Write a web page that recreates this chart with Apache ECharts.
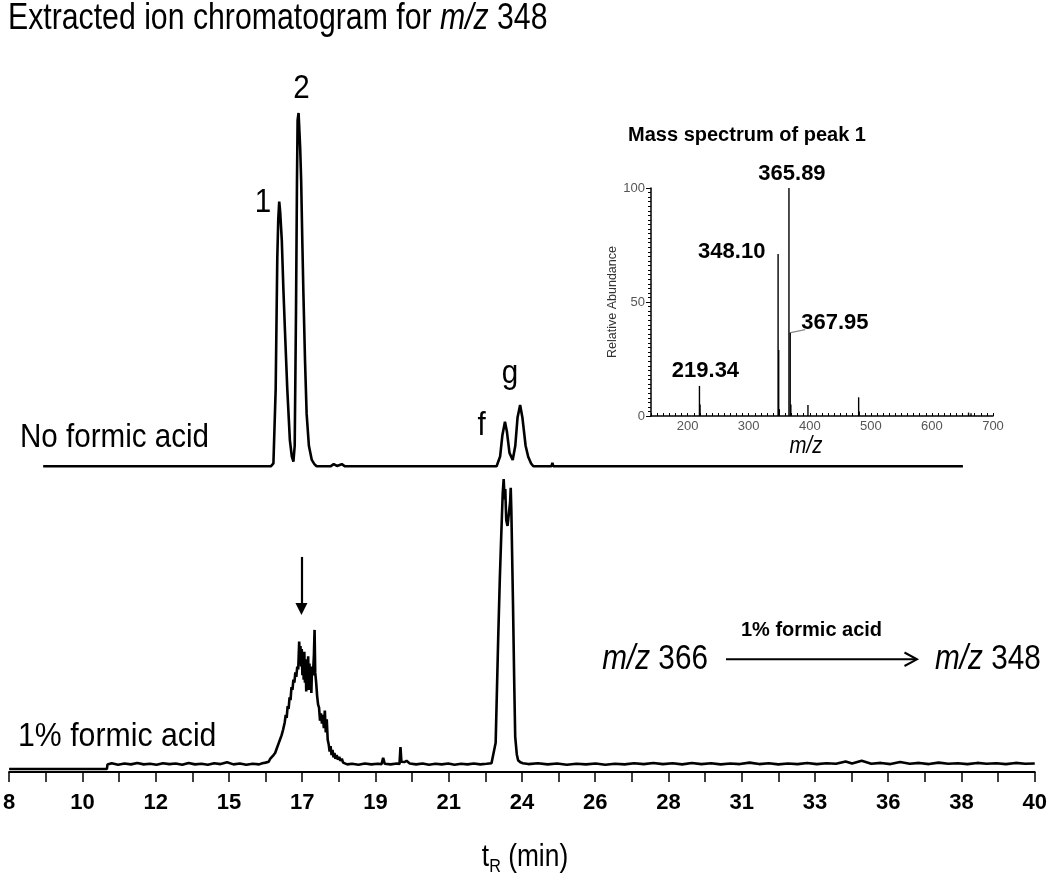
<!DOCTYPE html>
<html><head><meta charset="utf-8">
<script src="https://cdn.jsdelivr.net/npm/echarts@6/dist/echarts.min.js"></script>
<style>html,body{margin:0;padding:0;background:#fff}#c{width:1050px;height:878px}</style>
</head><body><div id="c"></div>
<script>
// ---------- data ----------
const timeTickLabels = ['8','10','12','15','17','19','21','24','26','28','31','33','36','38','40'];

// No formic acid trace: [time (min), relative intensity]
const noAcidTrace = [
  [9.09,0.2],[11.5,0.2],[14,0.2],[16.15,0.2],[16.23,1],[16.30,22],[16.35,59],[16.38,70],[16.41,75],[16.44,72],
  [16.49,64],[16.54,50],[16.59,38],[16.66,22],[16.74,7.6],[16.80,3],[16.85,1.5],[16.89,6],[16.93,43.5],[16.96,80],
  [16.98,98],[17.01,100],[17.03,99.5],[17.06,90],[17.09,81],[17.13,62],[17.16,49],[17.21,30],[17.26,15],[17.33,6],
  [17.42,2],[17.50,0.8],[17.57,0.2],[18.0,0.2],[18.1,0.8],[18.2,0.3],[18.35,0.8],[18.45,0.2],[21.0,0.2],[23.15,0.2],
  [23.26,3],[23.33,9],[23.41,12.8],[23.47,10],[23.55,4],[23.65,2],[23.73,6],[23.80,14],[23.88,17.5],[23.95,14],
  [24.05,6],[24.13,2.9],[24.22,1],[24.29,0.2],[24.85,0.2],[24.88,1.2],[24.91,0.2],[30.0,0.2],[37.61,0.2]
];

// 1% formic acid trace: [time (min), relative intensity]
const acidTrace = [
  [8.0,1.0],[11.05,1.0],[11.07,2.6],[11.2,3.0],[11.4,2.5],[11.6,2.9],[11.8,2.6],[12.0,3.1],[12.2,2.6],[12.4,2.8],
  [12.6,2.5],[12.8,3.0],[13.0,2.7],[13.2,2.9],[13.4,2.5],[13.6,3.1],[13.8,2.6],[14.0,2.8],[14.2,2.5],[14.4,3.0],
  [14.6,2.7],[14.8,3.3],[15.0,2.6],[15.2,2.9],[15.4,2.5],[15.6,2.8],[15.8,2.6],[15.9,3.0],
  [16.00,3.2],[16.05,3.8],[16.10,3.5],[16.15,4.6],[16.20,5.0],[16.25,5.8],[16.30,6.5],[16.35,8.0],[16.40,9.5],[16.45,11.0],
  [16.50,12.5],[16.55,14.5],[16.60,17.0],[16.63,19.5],[16.66,18.5],[16.69,22.5],[16.72,21.5],[16.75,25.5],[16.78,24.5],[16.81,29.0],
  [16.84,28.0],[16.87,31.5],[16.90,30.5],[16.93,34.0],[16.96,32.5],[16.99,36.0],[17.02,35.0],[17.05,44.5],[17.07,38.5],[17.09,43.0],
  [17.11,36.0],[17.13,42.0],[17.15,33.0],[17.17,40.5],[17.19,31.5],[17.21,41.0],[17.23,30.5],[17.25,38.5],[17.27,27.5],[17.29,36.5],
  [17.31,30.0],[17.33,39.5],[17.35,28.0],[17.37,37.0],[17.39,29.5],[17.41,35.0],[17.43,27.0],[17.45,36.0],[17.48,33.0],[17.51,40.0],
  [17.53,48.5],[17.55,34.0],[17.58,30.5],[17.61,26.0],[17.64,23.0],[17.67,22.0],[17.70,17.5],[17.73,20.0],[17.76,16.5],[17.79,19.5],
  [17.82,15.0],[17.85,21.0],[17.88,13.5],[17.91,18.0],[17.94,11.0],[17.97,9.5],[18.00,7.0],[18.03,8.8],[18.06,5.8],[18.09,7.5],
  [18.12,5.0],[18.15,6.5],[18.18,4.5],[18.22,5.8],[18.26,4.2],[18.30,5.2],[18.34,3.8],[18.38,4.6],[18.42,3.2],[18.48,3.6],
  [18.55,2.6],[18.7,2.8],[18.9,2.5],[19.1,2.9],[19.3,2.6],[19.5,2.8],[19.62,2.7],[19.67,4.8],[19.72,2.8],[19.9,2.6],
  [20.1,2.9],[20.18,2.7],[20.21,8.5],[20.24,3.5],[20.33,3.4],[20.40,3.8],[20.5,2.9],[20.7,2.6],[20.9,2.9],[21.1,2.5],
  [21.3,2.8],[21.5,2.6],[21.7,2.9],[21.9,2.5],[22.1,2.8],[22.3,2.6],[22.5,2.9],[22.7,2.6],[22.9,2.8],[23.05,3.0],
  [23.10,3.0],[23.18,10],[23.26,46],[23.31,66],[23.36,82.6],[23.40,95],[23.43,100],[23.46,93],[23.48,96.6],[23.51,86],
  [23.55,84],[23.59,83.6],[23.63,92],[23.65,97],[23.67,89],[23.72,58],[23.76,30],[23.79,12],[23.84,6],[23.88,4],
  [23.95,3.3],[24.03,3.0],[24.2,2.7],[24.5,3.0],[24.8,2.6],[25.1,2.9],[25.4,2.5],[25.7,2.8],[26.0,2.6],[26.3,2.9],
  [26.6,2.5],[26.9,2.8],[27.2,2.6],[27.5,3.0],[27.8,2.7],[28.1,3.1],[28.4,2.7],[28.7,3.0],[29.0,2.6],[29.3,3.1],
  [29.6,2.7],[29.9,3.0],[30.2,2.6],[30.5,2.9],[30.8,2.7],[31.1,3.2],[31.4,2.7],[31.7,3.0],[32.0,2.6],[32.3,2.9],
  [32.6,2.7],[32.9,3.1],[33.2,2.7],[33.5,3.0],[33.8,2.8],[34.1,3.6],[34.3,2.9],[34.6,3.8],[34.9,2.8],[35.2,3.1],
  [35.5,2.7],[35.8,3.4],[36.1,2.8],[36.4,3.1],[36.7,2.7],[37.0,3.2],[37.3,2.8],[37.6,3.0],[37.9,2.7],[38.2,3.1],
  [38.5,2.8],[38.8,3.0],[39.1,2.7],[39.4,3.1],[39.7,2.8],[40.0,2.9]
];

// Mass spectrum of peak 1: [m/z, relative abundance]
const spectrumPeaks = [
  [219.34,13.2],[220.3,5],[348.10,71],[349.1,29],[350.1,3],[365.89,100],[367.95,36.6],[369.0,5],
  [397.0,4.8],[480.0,8.2],[481.0,2],[660.0,1.5],[664.0,1.2]
];
const labeledPeaks = [219.34, 348.10, 365.89, 367.95];
const spectrumTickLabels = [200,300,400,500,600,700];
const abundanceTicks = [0,50,100];

// ---------- chart ----------
const SANS = "'Liberation Sans',Arial,sans-serif";
const T0 = 8, T1 = 40;
const nLab = timeTickLabels.length - 1;
const labelVals = timeTickLabels.map((_, i) => T0 + i * (T1 - T0) / nLab);
const tickVals = [];
for (let i = 0; i <= nLab * 2; i++) tickVals.push(T0 + i * (T1 - T0) / (nLab * 2));

const labelPlacement = {
  '219.34': {position: [6.7, -15], align: 'center', verticalAlign: 'middle'},
  '348.1':  {position: [-12, -2], align: 'right', verticalAlign: 'middle'},
  '365.89': {position: [3.7, -14], align: 'center', verticalAlign: 'middle'},
  '367.95': {position: [11.7, -10], align: 'left', verticalAlign: 'middle'}
};

const specData = spectrumPeaks.map(([mz, a]) => {
  const item = {value: [mz, a]};
  if (labeledPeaks.indexOf(mz) >= 0) {
    item.label = Object.assign({show: true, formatter: mz.toFixed(2)}, labelPlacement[String(mz)]);
  } else {
    item.label = {show: false};
  }
  return item;
});

const chart = echarts.init(document.getElementById('c'), null, {renderer: 'canvas'});

const option = {
  animation: false,
  backgroundColor: '#fff',
  grid: [
    {left: 8, right: 10, top: 113, height: 354},
    {left: 8, right: 10, top: 479, height: 293},
    {left: 651, width: 342, top: 188, height: 228}
  ],
  xAxis: [
    {type: 'value', gridIndex: 0, min: T0, max: T1, show: false},
    {type: 'value', gridIndex: 1, min: T0, max: T1,
      axisLine: {show: true, lineStyle: {color: '#000', width: 2}},
      axisTick: {show: true, customValues: tickVals, length: 10, lineStyle: {color: '#000', width: 1.5}},
      axisLabel: {customValues: labelVals, color: '#000', fontSize: 22, fontWeight: 'bold', fontFamily: SANS, margin: 20,
        formatter: v => timeTickLabels[Math.round((v - T0) / ((T1 - T0) / nLab))]},
      splitLine: {show: false}},
    {type: 'value', gridIndex: 2, min: 140, max: 700, interval: 10,
      axisLine: {show: true, lineStyle: {color: '#000', width: 1.5}},
      axisTick: {show: true, inside: true, length: 3, lineStyle: {color: '#000', width: 1}},
      axisLabel: {color: '#555', fontSize: 13, fontFamily: SANS, margin: 4,
        formatter: v => spectrumTickLabels.indexOf(v) >= 0 ? String(v) : ''},
      splitLine: {show: false}}
  ],
  yAxis: [
    {type: 'value', gridIndex: 0, min: 0, max: 100, show: false},
    {type: 'value', gridIndex: 1, min: 0, max: 100, show: false},
    {type: 'value', gridIndex: 2, min: 0, max: 100, interval: 50,
      axisLine: {show: true, lineStyle: {color: '#000', width: 1.5}},
      axisTick: {show: true, length: 5, lineStyle: {color: '#000', width: 1}},
      minorTick: {show: true, splitNumber: 25, length: 3, lineStyle: {color: '#000', width: 1}},
      axisLabel: {color: '#555', fontSize: 13, fontFamily: SANS, margin: 6,
        formatter: v => abundanceTicks.indexOf(v) >= 0 ? String(v) : ''},
      splitLine: {show: false},
      name: 'Relative Abundance', nameLocation: 'middle', nameGap: 30, nameRotate: 90,
      nameTextStyle: {color: '#333', fontSize: 12.5, fontFamily: SANS}}
  ],
  series: [
    {type: 'line', xAxisIndex: 0, yAxisIndex: 0, data: noAcidTrace, showSymbol: false, clip: false,
      lineStyle: {color: '#000', width: 2.6}, silent: true},
    {type: 'line', xAxisIndex: 1, yAxisIndex: 1, data: acidTrace, showSymbol: false, clip: false,
      lineStyle: {color: '#000', width: 2.6}, silent: true,
      markLine: {silent: true, symbol: ['none', 'triangle'], symbolSize: [12, 12], animation: false,
        lineStyle: {color: '#000', width: 2.2, type: 'solid'}, label: {show: false},
        data: [[{coord: [17.12, 73.4]}, {coord: [17.12, 55.6]}]]}},
    {type: 'bar', xAxisIndex: 2, yAxisIndex: 2, data: specData, barWidth: 1.4, silent: true,
      itemStyle: {color: '#000'},
      label: {color: '#000', fontSize: 22, fontWeight: 'bold', fontFamily: SANS}}
  ]
};
chart.setOption(option);

// text helper: condensed look obtained by horizontal scaling of Liberation Sans
function txt(x, y, text, o) {
  o = o || {};
  return {type: 'text', x: x, y: y, scaleX: o.sx || 1, silent: true, style: Object.assign({
    text: text, fill: '#000', fontSize: 34, fontFamily: SANS,
    align: o.align || 'left', verticalAlign: 'middle', textAlign: o.align || 'left', textVerticalAlign: 'middle'
  }, o.style || {})};
}
function mzRich(size) {
  return {n: {fontSize: size, fontFamily: SANS, fill: '#000'},
          i: {fontSize: size, fontFamily: SANS, fontStyle: 'italic', fill: '#000'}};
}

const p = chart.convertToPixel({gridIndex: 2}, [367.95, 36.6]);

const graphics = [
  txt(8, 19, '{n|Extracted ion chromatogram for }{i|m/z}{n| 348}', {sx: 0.84, style: {rich: mzRich(36)}}),
  txt(20, 437.5, 'No formic acid', {sx: 0.87}),
  txt(18, 736.5, '1% formic acid', {sx: 0.89}),
  txt(263, 202.5, '1', {align: 'center', sx: 0.87}),
  txt(301.5, 89, '2', {align: 'center', sx: 0.87}),
  txt(481.5, 425.5, 'f', {align: 'center', sx: 0.87}),
  txt(510, 374, 'g', {align: 'center', sx: 0.87}),
  txt(747, 135, 'Mass spectrum of peak 1', {align: 'center', style: {fontSize: 20, fontWeight: 'bold'}}),
  txt(806, 446, 'm/z', {align: 'center', sx: 0.85, style: {fontSize: 24, fontStyle: 'italic'}}),
  txt(708, 659, '{i|m/z}{n| 366}', {align: 'right', sx: 0.85, style: {rich: mzRich(35)}}),
  txt(935, 659, '{i|m/z}{n| 348}', {sx: 0.85, style: {rich: mzRich(35)}}),
  txt(811.5, 630.5, '1% formic acid', {align: 'center', style: {fontSize: 20, fontWeight: 'bold'}}),
  {type: 'line', silent: true, shape: {x1: 726, y1: 659.3, x2: 916, y2: 659.3}, style: {stroke: '#000', lineWidth: 2}},
  {type: 'polyline', silent: true, shape: {points: [[904.5, 652.5], [917, 659.3], [904.5, 666]]}, style: {stroke: '#000', lineWidth: 2, fill: null}},
  txt(525, 857, '{a|t}{b|R}{a| (min)}', {align: 'center', sx: 0.85, style: {rich: {
    a: {fontSize: 31, fontFamily: SANS, fill: '#000', lineHeight: 38},
    b: {fontSize: 19, fontFamily: SANS, fill: '#000', lineHeight: 17, verticalAlign: 'bottom'}}}}),
  {type: 'line', silent: true, shape: {x1: p[0] + 0.5, y1: p[1], x2: p[0] + 15, y2: p[1] - 3}, style: {stroke: '#888', lineWidth: 1.2}}
];
chart.setOption({graphic: graphics});
</script></body></html>
